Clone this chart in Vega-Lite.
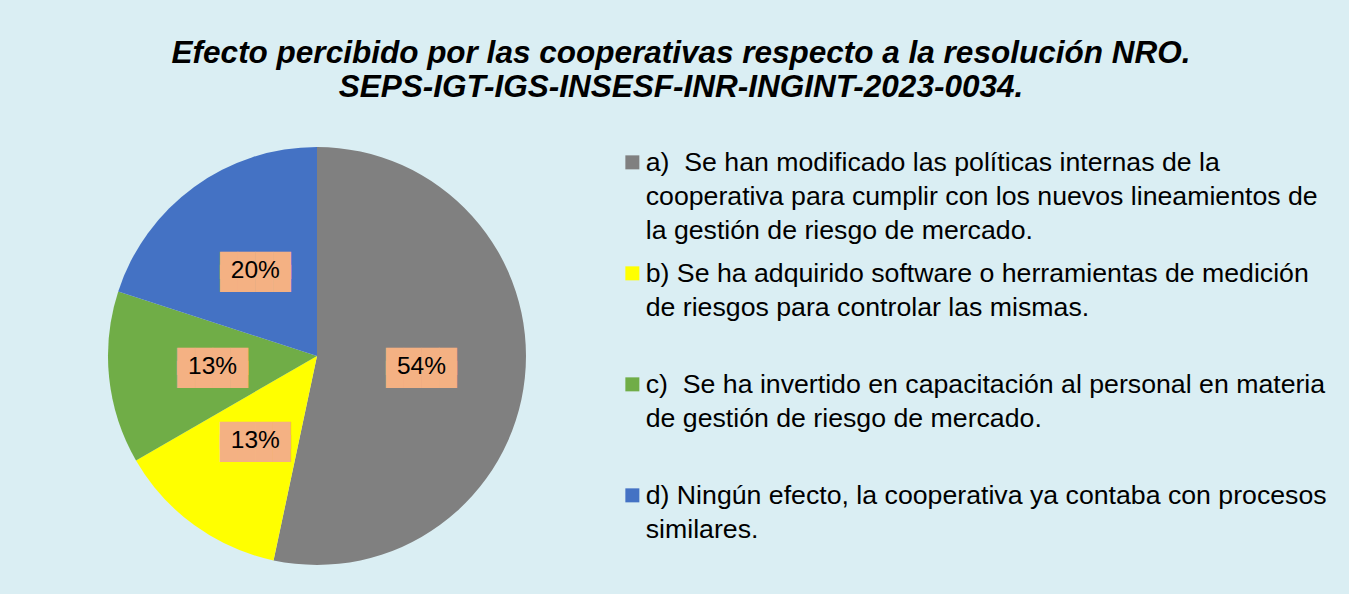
{
  "$schema": "https://vega.github.io/schema/vega-lite/v6.json",
  "autosize": {"type": "none"},
  "width": 418,
  "height": 418,
  "padding": {"left": 108, "top": 147, "right": 823, "bottom": 29},
  "background": "#DAEEF3",
  "title": {
    "text": ["Efecto percibido por las cooperativas respecto a la resolución NRO.", "SEPS-IGT-IGS-INSESF-INR-INGINT-2023-0034."],
    "font": "Liberation Sans",
    "fontSize": 31.5,
    "fontWeight": "bold",
    "fontStyle": "italic",
    "lineHeight": 34,
    "anchor": "middle",
    "dx": 364,
    "offset": 44,
    "color": "black"
  },
  "data": {
    "values": [
      {"opcion": "a)\u00a0 Se han modificado las políticas internas de la|cooperativa para cumplir con los nuevos lineamientos de|la gestión de riesgo de mercado.", "n": 8, "etiqueta": "54%"},
      {"opcion": "b) Se ha adquirido software o herramientas de medición|de riesgos para controlar las mismas.|\u00a0", "n": 2, "etiqueta": "13%"},
      {"opcion": "c)\u00a0 Se ha invertido en capacitación al personal en materia|de gestión de riesgo de mercado.|\u00a0", "n": 2, "etiqueta": "13%"},
      {"opcion": "d) Ningún efecto, la cooperativa ya contaba con procesos|similares.|\u00a0", "n": 3, "etiqueta": "20%"}
    ]
  },
  "encoding": {
    "theta": {"field": "n", "type": "quantitative", "stack": true},
    "order": {"field": "opcion", "type": "nominal", "sort": "ascending"},
    "detail": {"field": "opcion", "type": "nominal"}
  },
  "layer": [
    {
      "mark": {"type": "arc"},
      "encoding": {
        "color": {
          "field": "opcion",
          "type": "nominal",
          "scale": {"range": ["#808080", "#FFFF00", "#70AD47", "#4472C4"]},
          "legend": {
            "orient": "right",
            "offset": 91,
            "padding": 2,
            "title": null,
            "symbolType": "square",
            "symbolSize": 196,
            "symbolStrokeWidth": 0,
            "labelFont": "Liberation Sans",
            "labelFontSize": 26.7,
            "labelBaseline": "alphabetic",
            "labelLimit": 900,
            "labelOffset": 0,
            "labelColor": "black",
            "rowPadding": 14,
            "labelExpr": "split(datum.label, '|')",
            "labelOverlap": false,
            "encode": {
              "labels": {
                "update": {
                  "dy": {"value": 9},
                  "lineHeight": {"value": 34}
                }
              }
            }
          }
        }
      }
    },
    {
      "mark": {"type": "text", "radius": 105, "font": "DejaVu Sans", "fontSize": 23, "lineHeight": 13, "dy": -5, "color": "#F4B183", "baseline": "middle"},
      "encoding": {"text": {"value": ["████", "████"]}}
    },
    {
      "mark": {"type": "text", "radius": 105, "font": "Liberation Sans", "fontSize": 24.5, "color": "black", "baseline": "middle"},
      "encoding": {"text": {"field": "etiqueta", "type": "nominal"}}
    }
  ],
  "config": {"view": {"stroke": null}}
}
